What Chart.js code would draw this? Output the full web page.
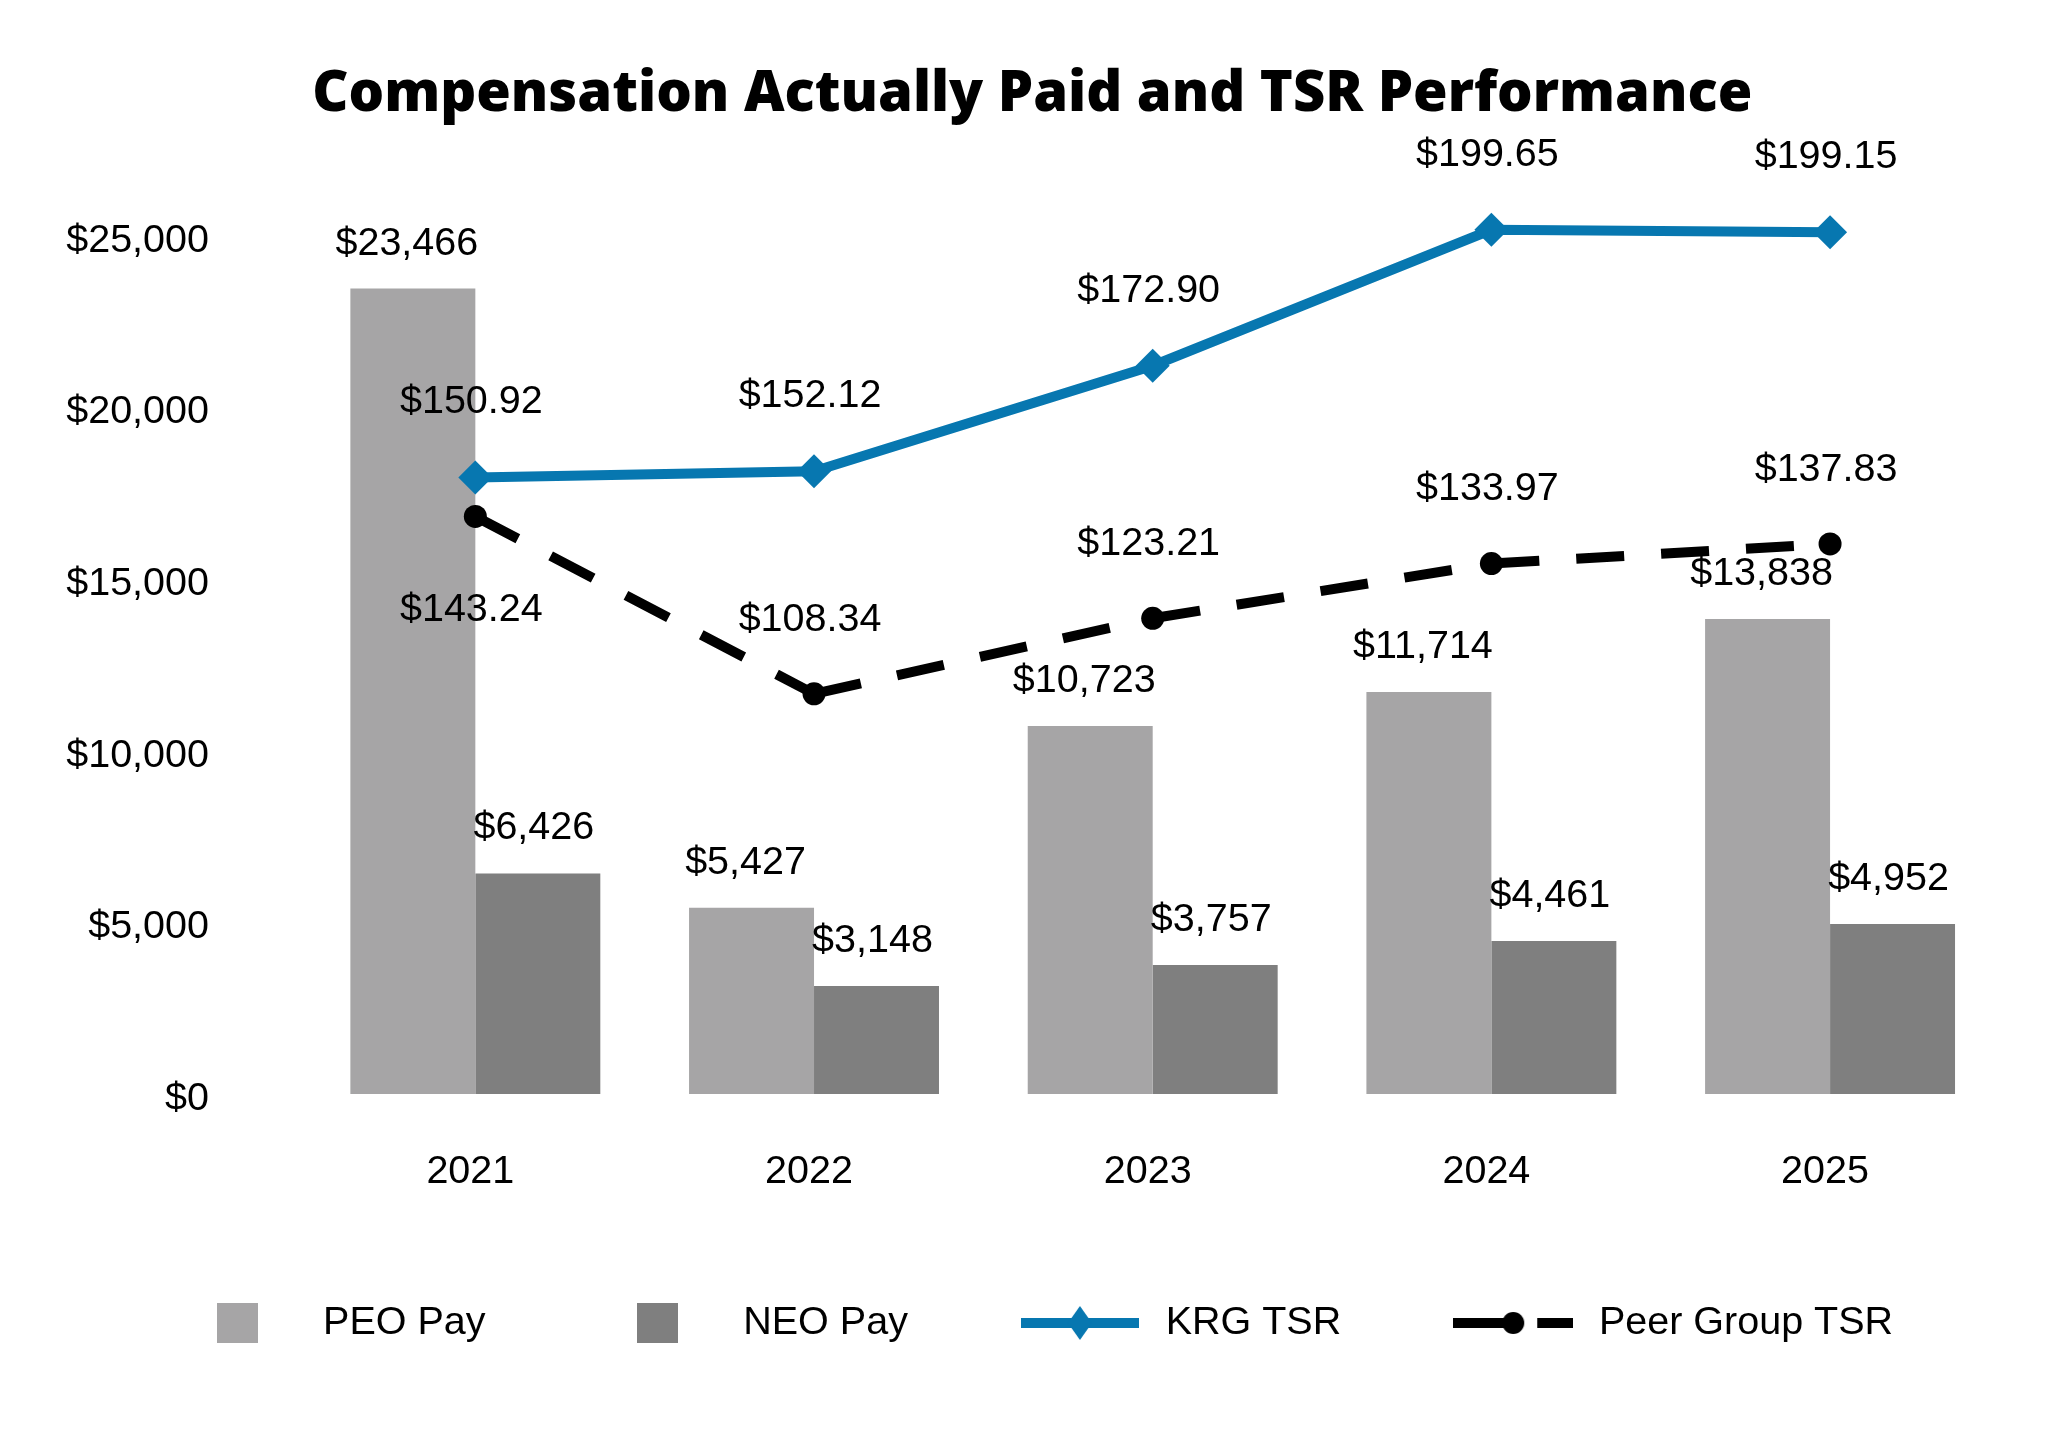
<!DOCTYPE html>
<html>
<head>
<meta charset="utf-8">
<script src="https://cdn.jsdelivr.net/npm/chart.js@4.4.1/dist/chart.umd.min.js"></script>
<style>
  html, body { margin: 0; padding: 0; background: #fff; }
  canvas { display: block; }
</style>
</head>
<body>
<canvas id="capChart" width="2070" height="1446"></canvas>
<script>
// =========================
// Chart data
// =========================
const years = ['2021', '2022', '2023', '2024', '2025'];
const peoPay = [23466, 5427, 10723, 11714, 13838];
const neoPay = [6426, 3148, 3757, 4461, 4952];
const krgTsr = [150.92, 152.12, 172.90, 199.65, 199.15];
const peerTsr = [143.24, 108.34, 123.21, 133.97, 137.83];
const payTicks = [0, 5000, 10000, 15000, 20000, 25000];

const BLUE = '#0777b0';
const PEO_GRAY = '#a6a5a6';
const NEO_GRAY = '#7f7f7f';
const FONT = '"Liberation Sans", Arial, sans-serif';
const FONT_SIZE = 39.5;

// =========================
// Legend symbols (small canvases)
// =========================
function makeSymbol(w, h, draw) {
    const c = document.createElement('canvas');
    c.width = w;
    c.height = h;
    draw(c.getContext('2d'), w, h);
    return c;
}

const peoSymbol = makeSymbol(41, 40, (g, w, h) => {
    g.fillStyle = PEO_GRAY;
    g.fillRect(0, 0, w, h);
});
const neoSymbol = makeSymbol(41, 40, (g, w, h) => {
    g.fillStyle = NEO_GRAY;
    g.fillRect(0, 0, w, h);
});
const krgSymbol = makeSymbol(118, 34, (g, w, h) => {
    g.fillStyle = BLUE;
    g.fillRect(0, h / 2 - 5, w, 10);
    g.beginPath();
    g.moveTo(w / 2, 0);
    g.lineTo(w / 2 + 12, h / 2);
    g.lineTo(w / 2, h);
    g.lineTo(w / 2 - 12, h / 2);
    g.closePath();
    g.fill();
});
const peerSymbol = makeSymbol(120, 24, (g, w, h) => {
    g.fillStyle = '#000';
    g.fillRect(0, h / 2 - 5, 60, 10);
    g.fillRect(84, h / 2 - 5, 36, 10);
    g.beginPath();
    g.arc(60, h / 2, 11, 0, Math.PI * 2);
    g.fill();
});

// =========================
// Value labels plugin
// =========================
const valueLabels = {
    id: 'valueLabels',
    afterDatasetsDraw(chart) {
        const ctx = chart.ctx;
        ctx.save();
        ctx.font = FONT_SIZE + 'px ' + FONT;
        ctx.fillStyle = '#000';
        ctx.textAlign = 'center';
        ctx.textBaseline = 'middle';
        chart.data.datasets.forEach((ds, i) => {
            const meta = chart.getDatasetMeta(i);
            meta.data.forEach((el, j) => {
                const v = ds.data[j];
                const off = ds.labelOffset(j);
                const txt = ds.type === 'bar'
                    ? '$' + v.toLocaleString('en-US')
                    : '$' + v.toFixed(2);
                ctx.fillText(txt, el.x + off[0], el.y + off[1]);
            });
        });
        ctx.restore();
    }
};

// dash restarts at every point, like the original
const restartDash = (ctx) => ctx.p0DataIndex % 2 ? [48, 37] : [48.0001, 37];

const titleSize = 56;
const titlePadTop = 61;

new Chart(document.getElementById('capChart'), {
    data: {
        labels: years,
        datasets: [
            {
                type: 'line',
                label: 'KRG TSR',
                data: krgTsr,
                yAxisID: 'y2',
                borderColor: BLUE,
                borderWidth: 10,
                pointStyle: 'rectRot',
                pointRadius: 17,
                pointBackgroundColor: BLUE,
                pointBorderWidth: 0,
                tension: 0,
                labelOffset: () => [-4, -75]
            },
            {
                type: 'line',
                label: 'Peer Group TSR',
                data: peerTsr,
                yAxisID: 'y2',
                borderColor: '#000',
                borderWidth: 10,
                borderDash: [48, 37],
                segment: { borderDash: restartDash },
                pointStyle: 'circle',
                pointRadius: 11.5,
                pointBackgroundColor: '#000',
                pointBorderWidth: 0,
                tension: 0,
                labelOffset: (j) => j === 0 ? [-4, 94] : [-4, -74]
            },
            {
                type: 'bar',
                label: 'PEO Pay',
                data: peoPay,
                yAxisID: 'y',
                backgroundColor: PEO_GRAY,
                barPercentage: 1,
                categoryPercentage: 0.738,
                labelOffset: () => [-6, -45]
            },
            {
                type: 'bar',
                label: 'NEO Pay',
                data: neoPay,
                yAxisID: 'y',
                backgroundColor: NEO_GRAY,
                barPercentage: 1,
                categoryPercentage: 0.738,
                labelOffset: () => [-4, -45]
            }
        ]
    },
    options: {
        responsive: false,
        animation: false,
        devicePixelRatio: 1,
        layout: { padding: { left: 65, right: 70.6, top: 0, bottom: 93.25 } },
        font: { family: FONT, size: FONT_SIZE },
        color: '#000',
        scales: {
            x: {
                grid: { display: false, drawTicks: false },
                border: { display: false },
                ticks: { color: '#000', font: { size: FONT_SIZE }, padding: 54, labelOffset: -5 },
                afterFit(s) { s.height = 103.25; }
            },
            y: {
                position: 'left',
                min: 0,
                max: 28000,
                grid: { display: false, drawTicks: false },
                border: { display: false },
                ticks: {
                    autoSkip: false,
                    color: '#000',
                    font: { size: FONT_SIZE },
                    padding: 97,
                    labelOffset: 5,
                    callback: (v) => '$' + v.toLocaleString('en-US')
                },
                afterBuildTicks(s) { s.ticks = payTicks.map(v => ({ value: v })); },
                afterFit(s) { s.width = 241; }
            },
            y2: {
                display: false,
                min: 29.6,
                max: 218.7
            }
        },
        plugins: {
            title: {
                display: true,
                text: 'Compensation Actually Paid and TSR Performance',
                color: '#000',
                font: { family: '"Open Sans", "Liberation Sans", sans-serif', size: titleSize, weight: '800' },
                padding: { top: titlePadTop, bottom: 133 - titlePadTop - titleSize * 1.2 }
            },
            legend: {
                position: 'bottom',
                labels: {
                    usePointStyle: true,
                    pointStyleWidth: 132,
                    padding: 106,
                    color: '#000',
                    font: { size: FONT_SIZE },
                    generateLabels: () => [
                        { text: 'PEO Pay', pointStyle: peoSymbol, datasetIndex: 2, fontColor: '#000' },
                        { text: 'NEO Pay', pointStyle: neoSymbol, datasetIndex: 3, fontColor: '#000' },
                        { text: 'KRG TSR', pointStyle: krgSymbol, datasetIndex: 0, fontColor: '#000' },
                        { text: 'Peer Group TSR', pointStyle: peerSymbol, datasetIndex: 1, fontColor: '#000' }
                    ]
                }
            },
            tooltip: { enabled: false }
        }
    },
    plugins: [valueLabels]
});
</script>
</body>
</html>
